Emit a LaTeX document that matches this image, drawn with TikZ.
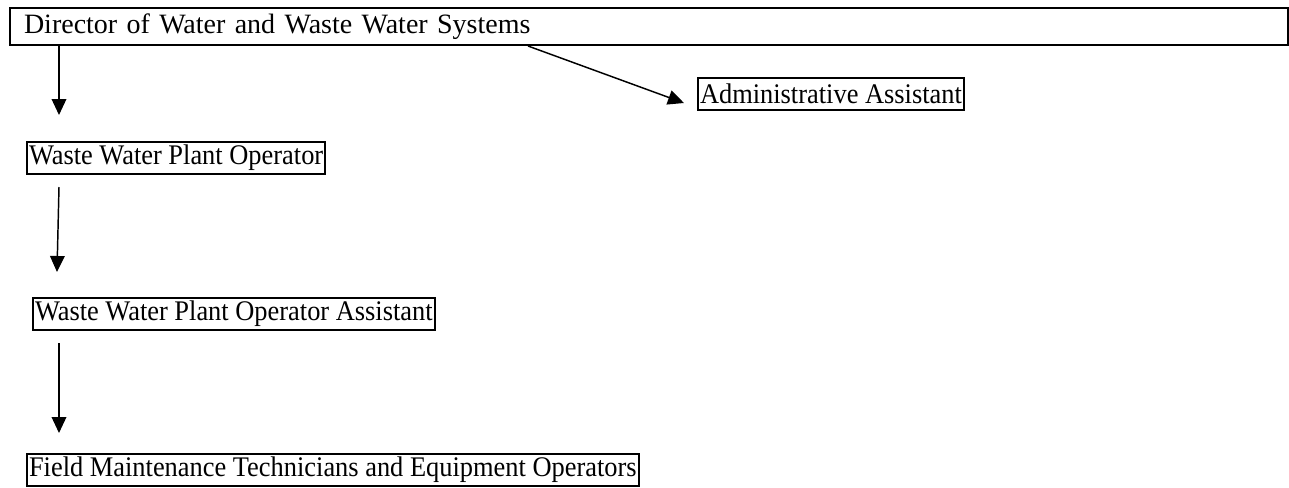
\documentclass[tikz,border=0pt]{standalone}
\usepackage{fontspec}
\setmainfont{Liberation Serif}
\newfontfamily\narrowserif{Liberation Serif}[FakeStretch=0.93]
\usetikzlibrary{arrows.meta}
\begin{document}
\begin{tikzpicture}[x=0.75pt,y=-0.75pt,
  box/.style={draw,line width=1.5pt,rectangle,anchor=north west,inner xsep=1.5pt,inner ysep=0pt,
    minimum height=24pt,font=\narrowserif\fontsize{21.3pt}{24pt}\selectfont},
  arr/.style={line width=1.1pt,-{Triangle[length=12pt,width=11pt]}}]
\useasboundingbox (0,0) rectangle (1289,487);
\node[box,minimum height=27.75pt,minimum width=958.5pt,text width=937.5pt,align=left,inner xsep=10.5pt,
  font=\fontsize{21pt}{24pt}\selectfont] (dir) at (9,7) {Director of Water and Waste Water Systems};
\node[box] (admin) at (697,77) {Administrative Assistant};
\node[box] (wwpo) at (26,141) {Waste Water Plant Operator};
\node[box] (wwpoa) at (32,297) {Waste Water Plant Operator Assistant};
\node[box] (field) at (26,453) {Field Maintenance Technicians and Equipment Operators};
\coordinate (t1) at (59,115);
\coordinate (s2) at (59,187);
\coordinate (t2) at (57,272);
\coordinate (s3) at (59,343);
\coordinate (t3) at (59,433);
\coordinate (t4) at (684,103);
\draw[arr] ([xshift=37.5pt]dir.south west) -- (t1);
\draw[arr] ([xshift=389.25pt]dir.south west) -- (t4);
\draw[arr] (s2) -- (t2);
\draw[arr] (s3) -- (t3);
\end{tikzpicture}
\end{document}
